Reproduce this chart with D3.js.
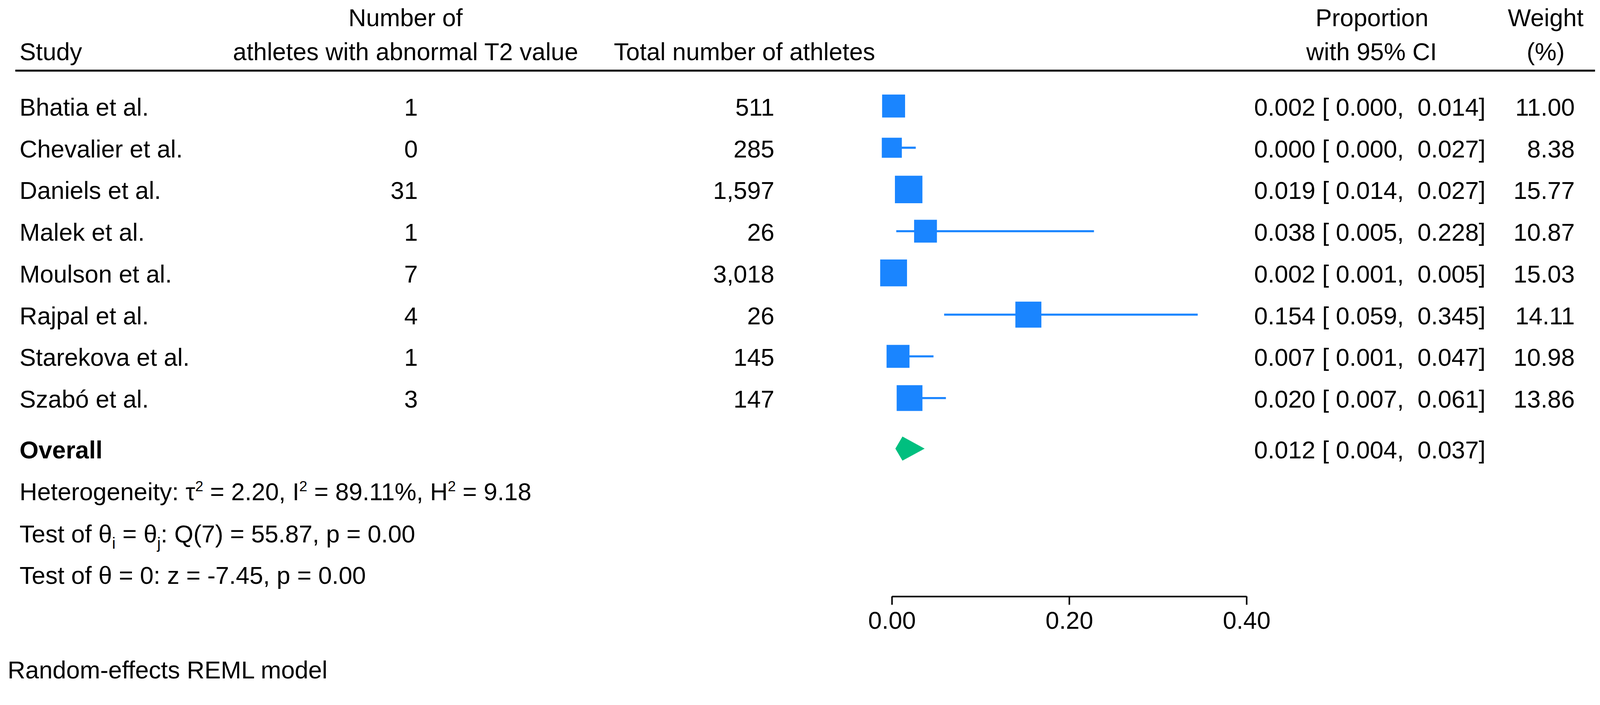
<!DOCTYPE html>
<html>
<head>
<meta charset="utf-8">
<script src="https://cdn.jsdelivr.net/npm/d3@7"></script>
<style>
  html, body { margin: 0; padding: 0; background: #fff; overflow: hidden; }
  svg { display: block; width: 100vw; height: 100vh; }
  text { font-family: "Liberation Sans", Arial, Helvetica, sans-serif; font-size: 64px; fill: #000; }
  .pre { white-space: pre; }
</style>
</head>
<body>
<div id="contenedor"></div>
<script>
// datos del forest plot
estudios = ["Bhatia et al.", "Chevalier et al.", "Daniels et al.", "Malek et al.",
            "Moulson et al.", "Rajpal et al.", "Starekova et al.", "Szabó et al."]
anormales = [1, 0, 31, 1, 7, 4, 1, 3]
totales = [511, 285, 1597, 26, 3018, 26, 145, 147]
proporcion = [0.002, 0.000, 0.019, 0.038, 0.002, 0.154, 0.007, 0.020]
inferior = [0.000, 0.000, 0.014, 0.005, 0.001, 0.059, 0.001, 0.007]
superior = [0.014, 0.027, 0.027, 0.228, 0.005, 0.345, 0.047, 0.061]
pesos = [11.00, 8.38, 15.77, 10.87, 15.03, 14.11, 10.98, 13.86]
global = [0.012, 0.004, 0.037]   // estimacion, inferior, superior
ticksX = [0, 0.2, 0.4]

ancho = 4182
alto = 1804
azul = "#1a85ff"
verde = "#00bf7f"

filas = estudios.map(function(d, i) {
    return {estudio: d, n: anormales[i], total: totales[i], p: proporcion[i],
            lo: inferior[i], hi: superior[i], w: pesos[i]}
})

escalaX = d3.scaleLinear().domain([0, 0.4]).range([2331, 3258])
escalaY = d3.scalePoint().domain(estudios).range([277, 1040])
escalaLado = d3.scaleSqrt().domain([0, 11]).range([0, 60])
yGlobal = 1172

f3 = d3.format(".3f")
f2 = d3.format(".2f")
coma = d3.format(",")

// viewBox para que todo quepa aunque la ventana sea algo menor
svg = d3.select("#contenedor")
    .append("svg")
    .attr("viewBox", "0 0 " + ancho + " " + alto)
    .attr("preserveAspectRatio", "xMinYMin meet")

// cabecera
cabecera = [
    {t: "Number of", x: 1060, y: 68, a: "middle"},
    {t: "Study", x: 51, y: 157, a: "start"},
    {t: "athletes with abnormal T2 value", x: 1060, y: 157, a: "middle"},
    {t: "Total number of athletes", x: 1946, y: 157, a: "middle"},
    {t: "Proportion", x: 3586, y: 68, a: "middle"},
    {t: "with 95% CI", x: 3585, y: 157, a: "middle"},
    {t: "Weight", x: 4040, y: 68, a: "middle"},
    {t: "(%)", x: 4040, y: 157, a: "middle"}
]
svg.selectAll("text.cab")
    .data(cabecera)
    .enter()
    .append("text")
    .attr("class", "cab")
    .attr("x", function(d) { return d.x })
    .attr("y", function(d) { return d.y })
    .attr("text-anchor", function(d) { return d.a })
    .text(function(d) { return d.t })

svg.append("line")
    .attr("x1", 40).attr("x2", 4169)
    .attr("y1", 184.5).attr("y2", 184.5)
    .attr("stroke", "#000").attr("stroke-width", 5)

// filas de texto
g = svg.selectAll("g.fila")
    .data(filas)
    .enter()
    .append("g")
    .attr("class", "fila")
    .attr("transform", function(d) { return "translate(0," + (escalaY(d.estudio) + 25) + ")" })

g.append("text").attr("x", 51).text(function(d) { return d.estudio })
g.append("text").attr("x", 1092).attr("text-anchor", "end").text(function(d) { return coma(d.n) })
g.append("text").attr("x", 2024).attr("text-anchor", "end").text(function(d) { return coma(d.total) })
g.append("text").attr("class", "pre").attr("x", 3278)
    .text(function(d) { return f3(d.p) + " [ " + f3(d.lo) + ",  " + f3(d.hi) + "]" })
g.append("text").attr("x", 4116).attr("text-anchor", "end").text(function(d) { return f2(d.w) })

// intervalos
svg.selectAll("line.ic")
    .data(filas)
    .enter()
    .append("line")
    .attr("class", "ic")
    .attr("x1", function(d) { return escalaX(d.lo) })
    .attr("x2", function(d) { return escalaX(d.hi) })
    .attr("y1", function(d) { return escalaY(d.estudio) })
    .attr("y2", function(d) { return escalaY(d.estudio) })
    .attr("stroke", azul)
    .attr("stroke-width", 5.5)

// cuadrados
svg.selectAll("rect.marca")
    .data(filas)
    .enter()
    .append("rect")
    .attr("class", "marca")
    .attr("x", function(d) { return escalaX(d.p) - escalaLado(d.w) / 2 })
    .attr("y", function(d) { return escalaY(d.estudio) - escalaLado(d.w) / 2 })
    .attr("width", function(d) { return escalaLado(d.w) })
    .attr("height", function(d) { return escalaLado(d.w) })
    .attr("fill", azul)

// global
svg.append("polygon")
    .attr("points", [
        [escalaX(global[1]), yGlobal],
        [escalaX(global[0]), yGlobal - 31.5],
        [escalaX(global[2]), yGlobal],
        [escalaX(global[0]), yGlobal + 31.5]
    ].map(function(p) { return p.join(",") }).join(" "))
    .attr("fill", verde)

svg.append("text").attr("x", 51).attr("y", yGlobal + 26)
    .attr("font-weight", "bold").text("Overall")
svg.append("text").attr("class", "pre").attr("x", 3278).attr("y", yGlobal + 26)
    .text(f3(global[0]) + " [ " + f3(global[1]) + ",  " + f3(global[2]) + "]")

// estadisticos
t1 = svg.append("text").attr("x", 51).attr("y", 1307)
t1.append("tspan").text("Heterogeneity: τ")
t1.append("tspan").attr("font-size", 38).attr("dy", -24).text("2")
t1.append("tspan").attr("dy", 24).text(" = 2.20, I")
t1.append("tspan").attr("font-size", 38).attr("dy", -24).text("2")
t1.append("tspan").attr("dy", 24).text(" = 89.11%, H")
t1.append("tspan").attr("font-size", 38).attr("dy", -24).text("2")
t1.append("tspan").attr("dy", 24).text(" = 9.18")

t2 = svg.append("text").attr("x", 51).attr("y", 1417)
t2.append("tspan").text("Test of θ")
t2.append("tspan").attr("font-size", 42).attr("dy", 16).text("i")
t2.append("tspan").attr("dy", -16).text(" = θ")
t2.append("tspan").attr("font-size", 42).attr("dy", 16).text("j")
t2.append("tspan").attr("dy", -16).text(": Q(7) = 55.87, p = 0.00")

svg.append("text").attr("x", 51).attr("y", 1525).text("Test of θ = 0: z = -7.45, p = 0.00")

svg.append("text").attr("x", 20).attr("y", 1772).text("Random-effects REML model")

// eje
ejeX = d3.axisBottom(escalaX)
    .tickValues(ticksX)
    .tickFormat(f2)
    .tickSize(22)
    .tickSizeOuter(0)
    .tickPadding(17)

eje = svg.append("g")
    .attr("transform", "translate(0,1558)")
    .call(ejeX)
eje.select(".domain").attr("stroke-width", 4)
eje.selectAll(".tick line").attr("stroke-width", 4)
eje.selectAll(".tick text")
    .attr("font-size", null)
    .style("font-family", "'Liberation Sans', Arial, sans-serif")
    .style("font-size", "64px")
eje.attr("font-size", null).attr("font-family", null)
</script>
</body>
</html>
